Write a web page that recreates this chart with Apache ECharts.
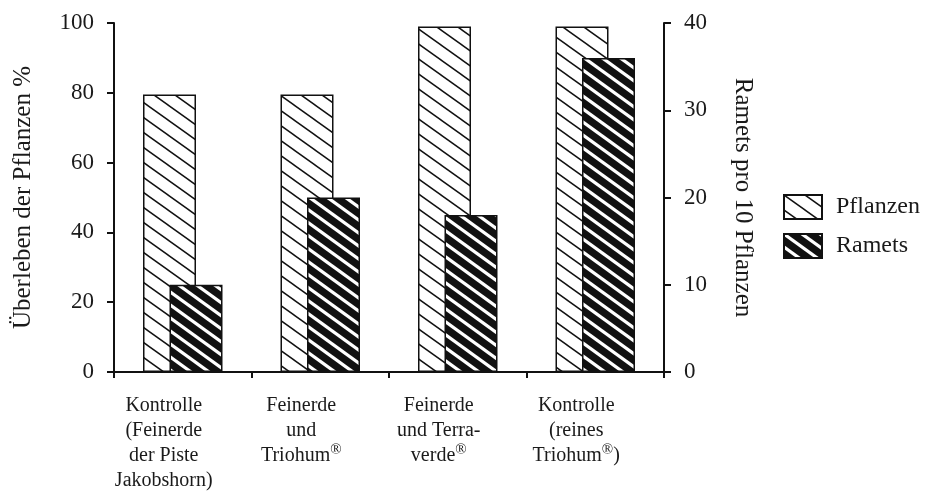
<!DOCTYPE html>
<html>
<head>
<meta charset="utf-8">
<script src="https://cdn.jsdelivr.net/npm/echarts@6/dist/echarts.min.js"></script>
<style>
html,body{margin:0;padding:0;background:#fff;}
#chart{width:928px;height:495px;}
</style>
</head>
<body>
<div id="chart"></div>
<script>
var categories = [
  'Kontrolle\n(Feinerde\nder Piste\nJakobshorn)',
  'Feinerde\nund\nTriohum{s|®}',
  'Feinerde\nund Terra-\nverde{s|®}',
  'Kontrolle\n(reines\nTriohum{s|®})'
];
var pflanzen = [79.5, 79.5, 99, 99];   // Überleben der Pflanzen %
var ramets = [10, 20, 18, 36];          // Ramets pro 10 Pflanzen
var seriesNames = ['Pflanzen', 'Ramets'];

function hatch(bg, fg, w, h, lw) {
  var c = document.createElement('canvas');
  c.width = w; c.height = h;
  var ctx = c.getContext('2d');
  ctx.fillStyle = bg; ctx.fillRect(0, 0, w, h);
  ctx.strokeStyle = fg; ctx.lineWidth = lw;
  for (var k = -1; k <= 1; k++) {
    ctx.beginPath();
    ctx.moveTo(-w, -h + k * h);
    ctx.lineTo(2 * w, 2 * h + k * h);
    ctx.stroke();
  }
  return c;
}
var pPat = {image: hatch('#ffffff', '#111111', 21, 15, 1.5), repeat: 'repeat'};
var rPat = {image: hatch('#111111', '#ffffff', 18, 13, 3.2), repeat: 'repeat'};

var font = '"Liberation Serif", "DejaVu Serif", serif';
var chart = echarts.init(document.getElementById('chart'), null, {renderer: 'canvas'});
chart.setOption({
  animation: false,
  backgroundColor: '#ffffff',
  textStyle: {fontFamily: font, color: '#1a1a1a'},
  grid: {left: 114, right: 264, top: 23, bottom: 123},
  legend: {
    orient: 'vertical', left: 778, top: 189,
    itemWidth: 38, itemHeight: 24, itemGap: 13,
    icon: 'rect',
    data: seriesNames,
    textStyle: {fontFamily: font, fontSize: 24, color: '#1a1a1a', padding: [0, 0, 0, 9]}
  },
  xAxis: {
    type: 'category',
    data: categories,
    boundaryGap: true,
    axisLine: {lineStyle: {color: '#111', width: 2}},
    axisTick: {show: true, length: 6, interval: 0, alignWithLabel: false, lineStyle: {color: '#111', width: 2}},
    axisLabel: {
      interval: 0, margin: 21, fontFamily: font, fontSize: 20, lineHeight: 25, color: '#1a1a1a',
      padding: [0, 38, 0, 0],
      rich: {s: {fontFamily: font, fontSize: 15, lineHeight: 25, verticalAlign: 'top', color: '#1a1a1a'}}
    }
  },
  yAxis: [{
    type: 'value', min: 0, max: 100, interval: 20, position: 'left',
    name: 'Überleben der Pflanzen %', nameLocation: 'middle', nameGap: 78, nameRotate: 90,
    nameTextStyle: {fontFamily: font, fontSize: 25, color: '#1a1a1a'},
    axisLine: {show: true, lineStyle: {color: '#111', width: 2}},
    axisTick: {show: true, length: 7, lineStyle: {color: '#111', width: 2}},
    axisLabel: {margin: 20, fontFamily: font, fontSize: 23, color: '#1a1a1a'},
    splitLine: {show: false}
  }, {
    type: 'value', min: 0, max: 40, interval: 10, position: 'right',
    name: 'Ramets pro 10 Pflanzen', nameLocation: 'middle', nameGap: 66, nameRotate: -90,
    nameTextStyle: {fontFamily: font, fontSize: 25, color: '#1a1a1a'},
    axisLine: {show: true, lineStyle: {color: '#111', width: 2}},
    axisTick: {show: true, length: 7, lineStyle: {color: '#111', width: 2}},
    axisLabel: {margin: 20, fontFamily: font, fontSize: 23, color: '#1a1a1a'},
    splitLine: {show: false}
  }],
  series: [{
    name: seriesNames[0], type: 'bar', yAxisIndex: 0, data: pflanzen,
    barWidth: 53, barGap: '-50%',
    itemStyle: {color: pPat, borderColor: '#111', borderWidth: 1.5}
  }, {
    name: seriesNames[1], type: 'bar', yAxisIndex: 1, data: ramets,
    barWidth: 53,
    itemStyle: {color: rPat, borderColor: '#111', borderWidth: 1.5}
  }]
});
</script>
</body>
</html>
